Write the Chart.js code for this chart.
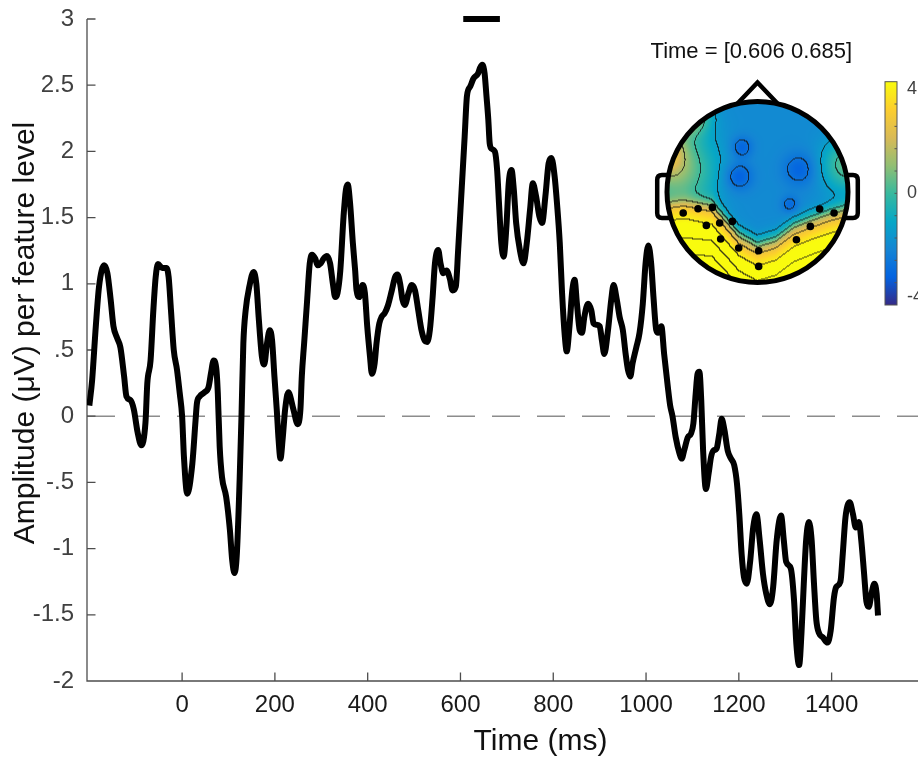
<!DOCTYPE html>
<html lang="en">
<head>
  <meta charset="UTF-8" />
  <title>Amplitude per feature level</title>
  <script src="https://cdn.jsdelivr.net/npm/chart.js"></script>
  <style>
    html, body { margin: 0; padding: 0; background: #fff; overflow: hidden; }
    #wrap { width: 918px; height: 759px; overflow: hidden; }
  </style>
</head>
<body>
  <div id="wrap"><canvas id="erp" width="994" height="759"></canvas></div>

  <script>
    const FONT = "'Liberation Sans', Arial, Helvetica, sans-serif";

    // ERP waveform (ms, µV per feature level)
    const timeMs = [
      -200, -194, -186, -179, -168, -161, -154, -148, -140, -133, -125, -120, -111, -104, -96, -88, -79, -75,
      -68, -62, -57, -52, -43, -34, -29, -24, -18, -11, -5, 0, 4, 11, 22, 29, 32, 38, 48, 57, 62, 68, 74, 77,
      81, 86, 95, 103, 108, 113, 118, 124, 128, 132, 137, 145, 154, 160, 165, 172, 177, 183, 189, 194, 199,
      204, 208, 212, 217, 222, 229, 240, 249, 255, 258, 263, 269, 275, 280, 287, 292, 299, 305, 312, 319,
      325, 330, 335, 341, 348, 353, 357, 362, 368, 373, 376, 382, 389, 394, 399, 405, 409, 415, 419, 425,
      430, 437, 444, 452, 459, 464, 470, 475, 480, 488, 495, 502, 509, 516, 523, 528, 534, 540, 545, 552,
      557, 563, 570, 577, 583, 590, 595, 602, 609, 614, 621, 628, 638, 642, 647, 652, 656, 660, 663, 667,
      674, 679, 683, 688, 693, 699, 704, 710, 715, 720, 728, 736, 743, 750, 756, 763, 770, 776, 783, 790,
      796, 803, 808, 814, 819, 825, 829, 835, 841, 846, 851, 857, 862, 867, 875, 882, 887, 893, 900, 905,
      910, 918, 925, 930, 937, 943, 950, 956, 961, 966, 971, 979, 986, 993, 999, 1005, 1011, 1016, 1022,
      1026, 1033, 1039, 1047, 1052, 1057, 1064, 1072, 1077, 1082, 1090, 1097, 1102, 1107, 1111, 1115, 1119,
      1123, 1129, 1135, 1140, 1145, 1152, 1158, 1163, 1169, 1176, 1183, 1190, 1196, 1201, 1206, 1211, 1217,
      1224, 1231, 1238, 1245, 1252, 1259, 1267, 1274, 1281, 1287, 1291, 1297, 1302, 1312, 1319, 1324, 1330,
      1335, 1340, 1345, 1351, 1357, 1362, 1367, 1373, 1381, 1391, 1398, 1405, 1410, 1419, 1424, 1430, 1439,
      1446, 1452, 1459, 1464, 1470, 1475, 1480, 1486, 1492, 1497, 1500
    ];
    const amplitude = [
      0.08, 0.27, 0.68, 0.98, 1.14, 1.08, 0.88, 0.68, 0.59, 0.52, 0.30, 0.15, 0.12, 0.05, -0.12, -0.22, -0.05, 0.25,
      0.42, 0.80, 1.05, 1.15, 1.12, 1.12, 1.05, 0.80, 0.50, 0.35, 0.17, 0.00, -0.31, -0.585, -0.36, -0.03, 0.10, 0.15, 0.18, 0.22, 0.32, 0.42, 0.35, 0.17,
      -0.23, -0.46, -0.61, -0.86, -1.09, -1.185, -1.04, -0.48, 0.00, 0.55, 0.80, 0.98, 1.09, 1.00, 0.75, 0.45, 0.39, 0.55, 0.65, 0.57, 0.30,
      0.05, -0.18, -0.32, -0.16, 0.05, 0.18, 0.05, -0.06, 0.05, 0.30, 0.55, 0.85, 1.15, 1.22, 1.19, 1.14, 1.155, 1.19, 1.21, 1.155,
      1.00, 0.90, 0.93, 1.10, 1.51, 1.71, 1.75, 1.61, 1.31, 1.10, 0.95, 0.90, 0.99, 0.93, 0.68, 0.45, 0.32, 0.40, 0.55, 0.70,
      0.75, 0.78, 0.84, 0.95, 1.05, 1.07, 1.00, 0.88, 0.84, 0.93, 0.99, 0.95, 0.80, 0.65, 0.57, 0.56, 0.65, 0.90, 1.155, 1.255,
      1.155, 1.08, 1.10, 1.04, 0.95, 0.98, 1.255, 1.68, 2.11, 2.42, 2.49, 2.55, 2.59, 2.63, 2.655, 2.59, 2.42, 2.24, 2.06, 2.02,
      2.00, 1.86, 1.61, 1.31, 1.205, 1.43, 1.76, 1.86, 1.71, 1.46, 1.255, 1.155, 1.31, 1.56, 1.76, 1.66, 1.51, 1.46, 1.66, 1.91,
      1.95, 1.81, 1.61, 1.31, 0.93, 0.60, 0.49, 0.68, 0.95, 1.03, 0.85, 0.65, 0.63, 0.75, 0.85, 0.80, 0.70, 0.69, 0.68, 0.57,
      0.47, 0.65, 0.88, 0.99, 0.88, 0.75, 0.65, 0.47, 0.35, 0.30, 0.40, 0.52, 0.63, 0.85, 1.155, 1.29, 1.155, 0.90, 0.65,
      0.63, 0.68, 0.47, 0.22, 0.08, 0.00, -0.16, -0.28, -0.32, -0.26, -0.16, -0.13, -0.055, 0.17, 0.32, 0.335, 0.12,
      -0.26, -0.55, -0.43, -0.31, -0.26, -0.245, -0.13, -0.02, -0.105, -0.26, -0.32, -0.37, -0.51, -0.74, -1.04, -1.215, -1.265,
      -1.11, -0.84, -0.74, -0.94, -1.19, -1.34, -1.42, -1.29, -0.96, -0.79, -0.75, -0.94, -1.10, -1.15, -1.39, -1.72, -1.88,
      -1.64, -1.265, -0.94, -0.80, -0.94, -1.265, -1.54, -1.64, -1.67, -1.71, -1.62, -1.37, -1.29, -1.25, -1.04, -0.76, -0.65,
      -0.74, -0.84, -0.80, -0.94, -1.19, -1.40, -1.44, -1.34, -1.265, -1.34, -1.505
    ];
    const sigWindow = [606, 685];   // significant time window (ms)
    const xTicks = [0, 200, 400, 600, 800, 1000, 1200, 1400];
    const yTicks = [3, 2.5, 2, 1.5, 1, 0.5, 0, -0.5, -1, -1.5, -2];

    // topography inset (head coords: -1..1, y down)
    const topoTitle = "Time = [0.606 0.685]";
    const topoBoundary = [[-1.0, 0.12], [-0.8, 0.1], [-0.5, 0.12], [-0.35, 0.28], [-0.2, 0.45], [0.0, 0.56],
                          [0.2, 0.5], [0.4, 0.35], [0.6, 0.27], [0.8, 0.2], [1.0, 0.15]];
    const topoBlobs = [  // u, v, amplitude, width
      [-0.9, -0.25, 3.0, 0.3], [-1.05, -0.45, 3.5, 0.15], [-0.75, -0.85, 3.5, 0.15], [1.0, -0.3, 2.5, 0.2],
      [-0.174, -0.494, -1.2, 0.085], [-0.21, -0.17, -1.4, 0.11], [0.47, -0.25, -1.2, 0.13], [0.36, 0.14, -1.0, 0.07]
    ];
    const contourLevels = [-2.7, -1.35, 0, 1.35, 2.7, 4.05, 5.4, 6.75];
    const electrodes = [
      [-0.821, 0.232], [-0.657, 0.185], [-0.498, 0.170], [-0.565, 0.369], [-0.418, 0.343], [-0.278, 0.325],
      [-0.407, 0.519], [-0.208, 0.619], [0.013, 0.649], [0.013, 0.822], [0.430, 0.527], [0.584, 0.380],
      [0.687, 0.188], [0.846, 0.232]
    ];
    const cbLimit = 4.3;
    const cbLabels = [4, 0, -4];
    const parula = ["#352a87", "#0363e1", "#1485d4", "#06a7c6", "#38b99e", "#92bf73", "#d9ba56", "#fcce2e", "#f9fb0e"];

    const hexRgb = h => [1, 3, 5].map(i => parseInt(h.slice(i, i + 2), 16));
    const parulaRgb = parula.map(hexRgb);
    const colorAt = val => {
      const t = Math.min(1, Math.max(0, (val + cbLimit) / (2 * cbLimit))) * (parula.length - 1);
      const i = Math.min(parula.length - 2, Math.floor(t)), f = t - i;
      return parulaRgb[i].map((c, k) => c + (parulaRgb[i + 1][k] - c) * f);
    };
    const boundaryAt = u => {
      for (let i = 1; i < topoBoundary.length; i++) {
        const [u0, v0] = topoBoundary[i - 1], [u1, v1] = topoBoundary[i];
        if (u <= u1) return v0 + (v1 - v0) * (u - u0) / (u1 - u0);
      }
      return topoBoundary[topoBoundary.length - 1][1];
    };
    const fieldAt = (u, v) => {
      const d = v - boundaryAt(u);
      let f = -2 + 2 * (1 + Math.tanh(d / 0.1)) + 8 * Math.max(d, 0);
      topoBlobs.forEach(([bu, bv, a, s]) => {
        f += a * Math.exp(-((u - bu) ** 2 + (v - bv) ** 2) / (2 * s * s));
      });
      return f;
    };

    let topoImage = null;
    const buildTopo = R => {
      const S = Math.round(2 * R);
      const off = document.createElement("canvas");
      off.width = S; off.height = S;
      const octx = off.getContext("2d");
      const img = octx.createImageData(S, S);
      const F = new Float32Array(S * S);
      for (let j = 0; j < S; j++) for (let i = 0; i < S; i++) {
        F[j * S + i] = fieldAt((i + 0.5 - S / 2) / R, (j + 0.5 - S / 2) / R);
      }
      const crosses = (a, b) => contourLevels.some(L => (a - L) * (b - L) < 0);
      for (let j = 0; j < S; j++) for (let i = 0; i < S; i++) {
        const u = (i + 0.5 - S / 2) / R, v = (j + 0.5 - S / 2) / R;
        const p = (j * S + i) * 4;
        if (u * u + v * v > 1) { img.data[p + 3] = 0; continue; }
        let [r, g, b] = colorAt(F[j * S + i]);
        const f0 = F[j * S + i];
        const line = (i + 1 < S && crosses(f0, F[j * S + i + 1])) || (j + 1 < S && crosses(f0, F[(j + 1) * S + i]));
        if (line) { r = r * 0.2 + 15; g = g * 0.2 + 15; b = b * 0.2 + 15; }
        img.data[p] = r; img.data[p + 1] = g; img.data[p + 2] = b; img.data[p + 3] = 255;
      }
      octx.putImageData(img, 0, 0);
      return off;
    };

    const axesPlugin = {
      id: "matlabAxes",
      beforeDatasetsDraw(chart) {
        const { ctx, chartArea: a, scales: { x, y } } = chart;
        ctx.save();
        // dashed zero line
        const y0 = y.getPixelForValue(0);
        ctx.strokeStyle = "#8c8c8c";
        ctx.lineWidth = 1.5;
        ctx.setLineDash([28, 17]);
        ctx.beginPath(); ctx.moveTo(a.left, y0); ctx.lineTo(a.right, y0); ctx.stroke();
        ctx.setLineDash([]);
        // box axes with inward ticks
        ctx.strokeStyle = "#4d4d4d";
        ctx.lineWidth = 1.3;
        ctx.beginPath();
        ctx.moveTo(a.left, a.top); ctx.lineTo(a.left, a.bottom); ctx.lineTo(a.right, a.bottom);
        yTicks.forEach(v => { const py = y.getPixelForValue(v); ctx.moveTo(a.left, py); ctx.lineTo(a.left + 8.5, py); });
        xTicks.forEach(v => { const px = x.getPixelForValue(v); ctx.moveTo(px, a.bottom); ctx.lineTo(px, a.bottom - 8.5); });
        ctx.stroke();
        ctx.restore();
      },
      afterDraw(chart) {
        const { ctx } = chart;
        ctx.save();
        ctx.fillStyle = "#111";
        ctx.font = `30px ${FONT}`;
        ctx.textAlign = "center";
        ctx.textBaseline = "alphabetic";
        ctx.fillText("Time (ms)", 540.5, 750);
        ctx.translate(33.5, 333);
        ctx.rotate(-Math.PI / 2);
        ctx.fillText("Amplitude (\u03BCV) per feature level", 0, 0);
        ctx.restore();
      }
    };

    const topoPlugin = {
      id: "topoInset",
      afterDraw(chart) {
        const { ctx } = chart;
        const cx = 757.5, cy = 192, R = 90.5;
        if (!topoImage) topoImage = buildTopo(R);
        ctx.save();
        ctx.fillStyle = "#111";
        ctx.font = `22px ${FONT}`;
        ctx.textAlign = "center";
        ctx.fillText(topoTitle, 751.3, 58.3);

        ctx.drawImage(topoImage, cx - topoImage.width / 2, cy - topoImage.height / 2);

        ctx.strokeStyle = "#000";
        ctx.lineWidth = 5;
        ctx.beginPath(); ctx.arc(cx, cy, R, 0, Math.PI * 2); ctx.stroke();
        ctx.lineWidth = 4.5;
        ctx.lineJoin = "miter";
        ctx.beginPath();
        ctx.moveTo(cx - 20, cy - R + 2); ctx.lineTo(cx, cy - R - 19); ctx.lineTo(cx + 20, cy - R + 2);
        ctx.stroke();
        [-1, 1].forEach(s => {
          ctx.beginPath();
          ctx.moveTo(cx + s * (R - 1.5), cy - 17);
          ctx.lineTo(cx + s * (R + 5), cy - 17);
          ctx.quadraticCurveTo(cx + s * (R + 9.8), cy - 17, cx + s * (R + 9.8), cy - 12);
          ctx.lineTo(cx + s * (R + 9.8), cy + 21);
          ctx.quadraticCurveTo(cx + s * (R + 9.8), cy + 26, cx + s * (R + 5), cy + 26);
          ctx.lineTo(cx + s * (R - 2.5), cy + 26);
          ctx.stroke();
        });
        ctx.fillStyle = "#000";
        electrodes.forEach(([u, v]) => {
          ctx.beginPath(); ctx.arc(cx + u * R, cy + v * R, 3.8, 0, Math.PI * 2); ctx.fill();
        });

        // colorbar
        const bx = 885, bw = 12, top = 81.7, bot = 305;
        const grad = ctx.createLinearGradient(0, bot, 0, top);
        parula.forEach((c, i) => grad.addColorStop(i / (parula.length - 1), c));
        ctx.fillStyle = grad;
        ctx.fillRect(bx, top, bw, bot - top);
        ctx.strokeStyle = "#555";
        ctx.lineWidth = 1;
        ctx.strokeRect(bx, top, bw, bot - top);
        ctx.beginPath();
        for (let k = 1; k < 10; k++) {
          const py = top + (bot - top) * k / 10;
          ctx.moveTo(bx + bw, py); ctx.lineTo(bx + bw - 2.5, py);
        }
        ctx.stroke();
        ctx.fillStyle = "#404040";
        ctx.font = `18px ${FONT}`;
        ctx.textAlign = "left";
        ctx.textBaseline = "middle";
        cbLabels.forEach(v => {
          ctx.fillText(String(v), 907, top + (cbLimit - v) / (2 * cbLimit) * (bot - top));
        });
        ctx.restore();
      }
    };

    new Chart(document.getElementById("erp"), {
      type: "line",
      data: {
        datasets: [
          {
            data: timeMs.map((t, i) => ({ x: t, y: amplitude[i] })),
            borderColor: "#000",
            borderWidth: 6,
            pointRadius: 0,
            cubicInterpolationMode: "monotone",
            borderJoinStyle: "round"
          },
          {
            data: sigWindow.map(t => ({ x: t, y: 3 })),
            borderColor: "#000",
            borderWidth: 6,
            pointRadius: 0,
            clip: false
          }
        ]
      },
      options: {
        responsive: false,
        animation: false,
        layout: { padding: { top: 19, left: 0, right: 0, bottom: 0 } },
        plugins: { legend: { display: false }, tooltip: { enabled: false } },
        scales: {
          x: {
            type: "linear",
            min: -205,
            max: 1750,
            afterBuildTicks: s => { s.ticks = xTicks.map(v => ({ value: v })); },
            afterFit: s => { s.height = 78; s.paddingLeft = 0; s.paddingRight = 0; },
            grid: { display: false, drawTicks: false },
            border: { display: false },
            ticks: {
              color: "#1a1a1a",
              font: { family: FONT, size: 24 },
              padding: 10,
              maxRotation: 0,
              autoSkip: false,
              callback: v => String(v)
            }
          },
          y: {
            min: -2,
            max: 3,
            afterBuildTicks: s => { s.ticks = yTicks.map(v => ({ value: v })); },
            afterFit: s => { s.width = 87; s.paddingTop = 0; s.paddingBottom = 0; },
            grid: { display: false, drawTicks: false },
            border: { display: false },
            ticks: {
              color: "#404040",
              font: { family: FONT, size: 24 },
              padding: 13,
              callback: v => String(v).replace(/^(-?)0\./, "$1.")
            }
          }
        }
      },
      plugins: [axesPlugin, topoPlugin]
    });
  </script>
</body>
</html>
